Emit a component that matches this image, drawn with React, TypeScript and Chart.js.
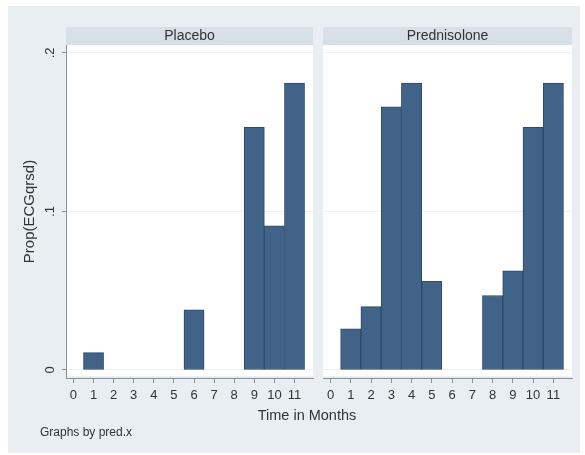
import React, { useEffect, useRef } from "react";
import { Chart, registerables } from "chart.js";

Chart.register(...registerables);

// ---- data ----
const months = [0, 1, 2, 3, 4, 5, 6, 7, 8, 9, 10, 11];
const placebo = [0, 0.011, 0, 0, 0, 0, 0.038, 0, 0, 0.153, 0.091, 0.181];
const prednisolone = [0, 0.026, 0.04, 0.166, 0.181, 0.056, 0, 0, 0.047, 0.0625, 0.153, 0.181];
const yTicks = [0, 0.1, 0.2];
const yTickLabels = ["0", ".1", ".2"];
const xTicks = months;
const panelTitles = ["Placebo", "Prednisolone"];
const xTitle = "Time in Months";
const yTitle = "Prop(ECGqrsd)";
const note = "Graphs by pred.x";

// ---- style ----
const FONT = '"Liberation Sans", Arial, Helvetica, sans-serif';
const OUTER_BG = "#e8eef1";
const HEADER_BG = "#d6e1e7";
const BAR_FILL = "#416387";
const BAR_EDGE = "#2b4a6b";
const TEXT = "#333333";
const AXIS = "#8a8f93";
const GRID = "#edf0f2";

Chart.defaults.font.family = FONT;

function panelPlugin(title: string, showYLabels: boolean) {
  return {
    id: "panelDecor",
    beforeDraw(chart: any) {
      const { ctx, chartArea: a } = chart;
      ctx.save();
      ctx.fillStyle = "#ffffff";
      ctx.fillRect(a.left, a.top, a.right - a.left, a.bottom - a.top - 2);
      ctx.fillStyle = HEADER_BG;
      ctx.fillRect(a.left, a.top - 18, a.right - a.left, 18);
      ctx.fillStyle = TEXT;
      ctx.font = `14px ${FONT}`;
      ctx.textAlign = "center";
      ctx.textBaseline = "middle";
      ctx.fillText(title, (a.left + a.right) / 2, a.top - 9);
      ctx.restore();
    },
    afterDraw(chart: any) {
      if (!showYLabels) return;
      const { ctx } = chart;
      const s = chart.scales.y;
      ctx.save();
      ctx.fillStyle = TEXT;
      ctx.font = `13px ${FONT}`;
      ctx.textAlign = "center";
      ctx.textBaseline = "middle";
      yTicks.forEach((v, i) => {
        const y = s.getPixelForValue(v);
        ctx.save();
        ctx.translate(s.right - 16, y);
        ctx.rotate(-Math.PI / 2);
        ctx.fillText(yTickLabels[i], 0, 0);
        ctx.restore();
      });
      ctx.restore();
    },
  };
}

function makeConfig(values: number[], title: string, first: boolean) {
  return {
    type: "bar" as const,
    data: {
      datasets: [
        {
          data: months.map((m, i) => ({ x: m, y: values[i] > 0 ? values[i] : null })),
          backgroundColor: BAR_FILL,
          borderColor: BAR_EDGE,
          borderWidth: 1,
          borderSkipped: false,
          barPercentage: 1,
          categoryPercentage: 1,
        },
      ],
    },
    options: {
      responsive: false,
      animation: false as const,
      layout: { padding: first ? { top: 45, right: 5, left: 0, bottom: 0 } : { top: 45, right: 13, left: 5, bottom: 0 } },
      plugins: { legend: { display: false }, tooltip: { enabled: false }, title: { display: false } },
      scales: {
        x: {
          type: "linear" as const,
          offset: false,
          min: -0.37,
          max: 11.92,
          afterBuildTicks: (s: any) => {
            s.ticks = xTicks.map((v) => ({ value: v }));
          },
          afterFit: (s: any) => {
            s.height = 77;
          },
          grid: { offset: false, drawOnChartArea: false, drawTicks: true, tickLength: 5, tickColor: AXIS, color: AXIS },
          border: { display: true, color: AXIS, width: 1 },
          ticks: { color: TEXT, font: { size: 13 }, padding: 5, maxRotation: 0, autoSkip: false, callback: (v: any) => String(v) },
        },
        y: {
          type: "linear" as const,
          min: -0.00505,
          max: 0.205,
          afterBuildTicks: (s: any) => {
            s.ticks = yTicks.map((v) => ({ value: v }));
          },
          afterFit: (s: any) => {
            s.width = first ? 66 : 0;
          },
          grid: { color: GRID, drawTicks: first, tickLength: 4, tickColor: AXIS },
          border: { display: first, color: AXIS, width: 1 },
          ticks: { display: false },
          title: {
            display: first,
            text: yTitle,
            color: TEXT,
            font: { size: 15 },
            padding: { top: 21, bottom: 0 },
          },
        },
      },
    },
    plugins: [panelPlugin(title, first)],
  };
}

function Panel({ values, title, first, left, width }: { values: number[]; title: string; first: boolean; left: number; width: number }) {
  const ref = useRef<HTMLCanvasElement | null>(null);
  useEffect(() => {
    if (!ref.current) return;
    const chart = new Chart(ref.current, makeConfig(values, title, first) as any);
    return () => chart.destroy();
  }, [values, title, first]);
  return (
    <canvas
      ref={ref}
      width={width}
      height={455}
      style={{ position: "absolute", left, top: 0, width, height: 455 }}
    />
  );
}

export default function App() {
  return (
    <div style={{ position: "absolute", left: 0, top: 0, width: 585, height: 455, background: "#ffffff", overflow: "hidden", fontFamily: FONT }}>
      <div style={{ position: "absolute", left: 8, top: 6, width: 572, height: 447, background: OUTER_BG }} />
      <Panel values={placebo} title={panelTitles[0]} first={true} left={0} width={318} />
      <Panel values={prednisolone} title={panelTitles[1]} first={false} left={318} width={267} />
      <div style={{ position: "absolute", left: 207, top: 407, width: 200, textAlign: "center", fontSize: 14.5, lineHeight: "16px", color: TEXT }}>
        {xTitle}
      </div>
      <div style={{ position: "absolute", left: 40, top: 426, fontSize: 12, lineHeight: "12px", color: TEXT, whiteSpace: "nowrap" }}>
        {note}
      </div>
    </div>
  );
}
